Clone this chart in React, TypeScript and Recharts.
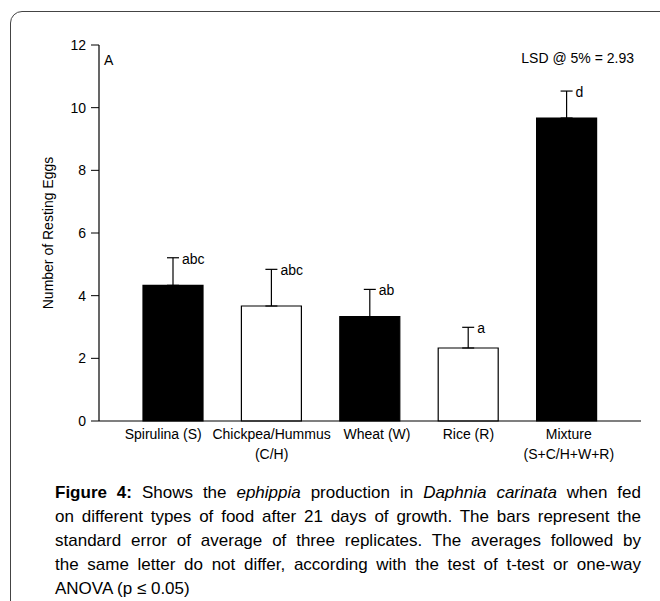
import React from 'react';
import { BarChart, Bar, XAxis, YAxis, ErrorBar, Cell, LabelList } from 'recharts';

/* ---------- data ---------- */

const categories = ['Spirulina (S)', 'Chickpea/Hummus (C/H)', 'Wheat (W)', 'Rice (R)', 'Mixture (S+C/H+W+R)'];
const tickLines = [
    ['Spirulina (S)'],
    ['Chickpea/Hummus', '(C/H)'],
    ['Wheat (W)'],
    ['Rice (R)'],
    ['Mixture', '(S+C/H+W+R)'],
];
const meanEggs = [4.33, 3.67, 3.33, 2.33, 9.67];
const stdError = [0.88, 1.17, 0.87, 0.66, 0.86];
const letters = ['abc', 'abc', 'ab', 'a', 'd'];
const yTicks = [0, 2, 4, 6, 8, 10, 12];

/* ---------- styles ---------- */

const BAR_FILLS = ['#000000', '#ffffff', '#000000', '#ffffff', '#000000'];
const LABEL_NUDGE = [-10, 0, 7, 0, 2];
const FONT = '"Liberation Sans", Arial, sans-serif';

const data = categories.map((name, i) => ({
    name,
    value: meanEggs[i],
    err: [0, stdError[i]],
}));

const CategoryTick = (props: any) => {
    const { x, y, index } = props;
    const lines = tickLines[index] ?? [];
    const cx = x + LABEL_NUDGE[index];
    return (
        <text x={cx} y={y} textAnchor="middle" fontSize={14} fontFamily={FONT} fill="#000">
            {lines.map((line, i) => (
                <tspan key={line} x={cx} dy={i === 0 ? 18 : 20}>
                    {line}
                </tspan>
            ))}
        </text>
    );
};

const YLabel = (props: any) => {
    const vb = props.viewBox || { x: 0, y: 45, height: 376 };
    const cx = vb.x + 48;
    const cy = vb.y + vb.height / 2;
    return (
        <text
            x={cx}
            y={cy}
            transform={`rotate(-90 ${cx} ${cy})`}
            textAnchor="middle"
            dominantBaseline="central"
            fontSize={14}
            fontFamily={FONT}
            fill="#000"
        >
            Number of Resting Eggs
        </text>
    );
};

const LetterLabel = (props: any) => {
    const { x, y, width, height, index } = props;
    const pxPerUnit = Number(height) / meanEggs[index];
    const capY = Number(y) - stdError[index] * pxPerUnit;
    return (
        <text x={Number(x) + Number(width) / 2 + 9} y={capY + 6} fontSize={14} fontFamily={FONT} fill="#000">
            {letters[index]}
        </text>
    );
};

const captionLines: React.ReactNode[] = [
    <>
        <b>Figure 4:</b> Shows the <i>ephippia</i> production in <i>Daphnia carinata</i> when fed
    </>,
    <>on different types of food after 21 days of growth. The bars represent the</>,
    <>standard error of average of three replicates. The averages followed by</>,
    <>the same letter do not differ, according with the test of t-test or one-way</>,
    <>ANOVA (p ≤ 0.05)</>,
];

export default function App() {
    return (
        <div
            style={{
                position: 'absolute',
                left: 0,
                top: 0,
                width: 660,
                height: 601,
                overflow: 'hidden',
                background: '#fff',
                fontFamily: FONT,
            }}
        >
            <div
                style={{
                    position: 'absolute',
                    left: 10,
                    top: 11,
                    width: 720,
                    height: 700,
                    border: '1.5px solid #444',
                    borderRadius: 12,
                }}
            />

            <div style={{ position: 'absolute', left: 0, top: 0 }}>
                <BarChart
                    width={660}
                    height={470}
                    data={data}
                    margin={{ top: 45, right: 19, bottom: 0, left: 0 }}
                    barCategoryGap={0}
                >
                    <XAxis
                        dataKey="name"
                        height={49}
                        tickLine={false}
                        tickSize={0}
                        tickMargin={0}
                        interval={0}
                        padding={{ left: 25, right: 25 }}
                        axisLine={{ stroke: '#000', strokeWidth: 1.2 }}
                        tick={<CategoryTick />}
                    />
                    <XAxis
                        xAxisId="top"
                        orientation="top"
                        dataKey="name"
                        height={0}
                        tick={false}
                        tickLine={false}
                        padding={{ left: 25, right: 25 }}
                        axisLine={{ stroke: '#000', strokeWidth: 1.2 }}
                    />
                    <YAxis
                        width={99}
                        domain={[0, 12]}
                        ticks={yTicks}
                        interval={0}
                        tickSize={8}
                        tickMargin={5}
                        axisLine={{ stroke: '#000', strokeWidth: 1.2 }}
                        tickLine={{ stroke: '#000' }}
                        tick={{ fill: '#000', fontSize: 14, fontFamily: FONT }}
                        label={<YLabel />}
                    />
                    <YAxis
                        yAxisId="right"
                        orientation="right"
                        width={0}
                        domain={[0, 12]}
                        tick={false}
                        tickLine={false}
                        axisLine={{ stroke: '#000', strokeWidth: 1.2 }}
                    />
                    <Bar dataKey="value" barSize={60} stroke="#000" strokeWidth={1.2} isAnimationActive={false}>
                        {data.map((d, i) => (
                            <Cell key={d.name} fill={BAR_FILLS[i]} />
                        ))}
                        <ErrorBar dataKey="err" width={6} stroke="#000" strokeWidth={1.2} direction="y" />
                        <LabelList dataKey="value" content={<LetterLabel />} />
                    </Bar>
                </BarChart>
            </div>

            <div style={{ position: 'absolute', left: 104, top: 52, fontSize: 14, lineHeight: '16px' }}>A</div>
            <div
                style={{
                    position: 'absolute',
                    right: 26,
                    top: 50,
                    fontSize: 14,
                    lineHeight: '16px',
                    whiteSpace: 'nowrap',
                }}
            >
                LSD @ 5% = 2.93
            </div>

            <div style={{ position: 'absolute', left: 55, top: 481, width: 586, fontSize: 17, color: '#000' }}>
                {captionLines.map((line, i) => (
                    <div
                        key={i}
                        style={{
                            height: 24,
                            lineHeight: '24px',
                            whiteSpace: 'nowrap',
                            textAlign: 'justify',
                            textAlignLast: i === captionLines.length - 1 ? 'left' : 'justify',
                        }}
                    >
                        {line}
                    </div>
                ))}
            </div>
        </div>
    );
}
